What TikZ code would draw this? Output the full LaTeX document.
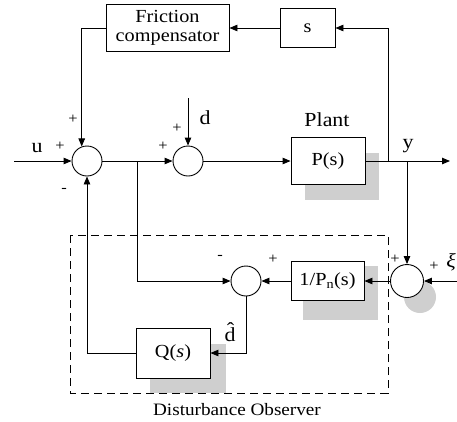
\documentclass[tikz,border=0pt]{standalone}
\usepackage{fontspec}
\usepackage{amsmath}
\setmainfont[FakeStretch=1.1]{Liberation Serif}
\usetikzlibrary{arrows.meta}
\begin{document}
\begin{tikzpicture}[x=1bp,y=-1bp, line width=0.9bp,
  blk/.style={draw, fill=white, inner sep=0pt, align=center, font=\fontsize{18.5}{19}\selectfont},
  sum/.style={draw, circle, fill=white, minimum size=30bp, inner sep=0pt},
  arr/.style={-{Triangle[length=8bp,width=6.5bp]}},
  sgn/.style={font=\fontsize{15}{15}\selectfont, inner sep=0pt},
  lbl/.style={font=\fontsize{20}{20}\selectfont, inner sep=0pt},
  shade/.style={fill=gray!38, draw=none},
  obsbox/.style={dash pattern=on 8bp off 5bp}]
\useasboundingbox (0,0) rectangle (457,421);
% shadows
\fill[shade] (305,153) rectangle (379,200);
\fill[shade] (303,266) rectangle (378,320);
\fill[shade] (150,344) rectangle (226,393);
\fill[shade] (420,297) circle[radius=16bp];
% observer frame
\draw[obsbox] (70,235) rectangle (388,393);
% blocks
\node[blk, minimum width=123bp, minimum height=47bp] (fc) at (167.5,28) {Friction\\compensator};
\node[blk, minimum width=55bp, minimum height=39bp] (s) at (307.5,28) {s};
\node[blk, minimum width=74bp, minimum height=47bp] (P) at (328,161) {P(s)};
\node[blk, minimum width=73bp, minimum height=39bp] (Pn) at (327.5,281) {1/P\textsubscript{n}(s)};
\node[blk, minimum width=74bp, minimum height=50bp] (Q) at (173,353) {Q(\textit{s})};
\node[sum] (c1) at (87,161) {};
\node[sum] (c2) at (188,161) {};
\node[sum, minimum size=33bp] (c3) at (407,281) {};
\node[sum] (c4) at (246,281) {};
% free ends
\coordinate (uin) at (14,161);
\coordinate (dtop) at (188,98);
\coordinate (yout) at (450,161);
\coordinate (j1) at (388,161);
\coordinate (j2) at (407,161);
\coordinate (b1) at (137,161);
\coordinate (xin) at (457,281);
% connectors
\draw[arr] (uin) -- (c1);
\draw[arr] (fc.west) -| (c1.110);
\draw[arr] (c1) -- (c2);
\draw[arr] (b1) |- (c4.west);
\draw[arr] (dtop) -- (c2.north);
\draw[arr] (c2) -- (P);
\draw[arr] (P) -- (yout);
\draw[arr] (j1) |- (s.east);
\draw[arr] (s) -- (fc);
\draw[arr] (j2) -- (c3.north);
\draw[arr] (xin) -- (c3.east);
\draw[arr] (c3) -- (Pn);
\draw[arr] (Pn) -- (c4);
\draw[arr] (c4.south) |- (Q.east);
\draw[arr] (Q.west) -| (c1.south);
% labels
\node[lbl] (lu) at (37,148) {u};
\node[sgn] (s1) at (60,146) {+};
\node[sgn] (s2) at (73,119) {+};
\node[sgn] (s3) at (64,190) {-};
\node[sgn] (s4) at (163,146) {+};
\node[sgn] (s5) at (177,128) {+};
\node[lbl] (ld) at (205,118) {d};
\node[lbl] (lplant) at (327,120) {Plant};
\node[lbl] (ly) at (408,146) {y};
\node[sgn] (s6) at (395,259) {+};
\node[sgn] (s7) at (434,266) {+};
\node[lbl] (lxi) at (451,262) {\textit{ξ}};
\node[sgn] (s8) at (273,259) {+};
\node[sgn] (s9) at (220,257) {-};
\node[lbl] (ldh) at (230,332) {d̂};
\node[lbl, font=\fontsize{17.5}{17.5}\selectfont] (lobs) at (237,410) {Disturbance Observer};
\end{tikzpicture}
\end{document}
